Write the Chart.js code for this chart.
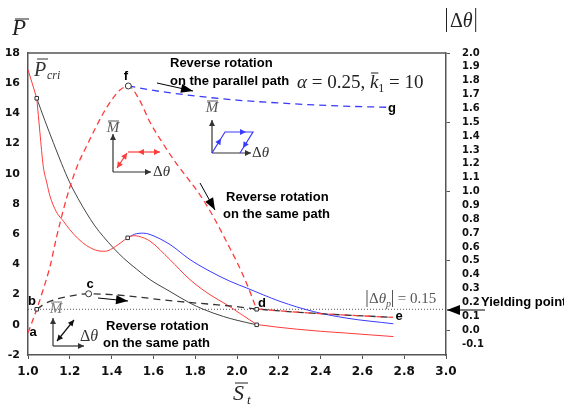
<!DOCTYPE html>
<html>
<head>
<meta charset="utf-8">
<script src="https://cdn.jsdelivr.net/npm/chart.js@4.4.0/dist/chart.umd.min.js"></script>
<style>
  html, body { margin: 0; padding: 0; background: #fff; }
  canvas { display: block; }
</style>
</head>
<body>
<canvas id="chart" width="564" height="409"></canvas>
<script>
// tick values
const bottomTicks = [1.0, 1.2, 1.4, 1.6, 1.8, 2.0, 2.2, 2.4, 2.6, 2.8, 3.0];
const leftTicks = [-2, 0, 2, 4, 6, 8, 10, 12, 14, 16, 18];
const rightTicks = [-0.1, 0.0, 0.1, 0.2, 0.3, 0.4, 0.5, 0.6, 0.7, 0.8, 0.9, 1.0,
  1.1, 1.2, 1.3, 1.4, 1.5, 1.6, 1.7, 1.8, 1.9, 2.0];

// solid curves, P (left axis)
const blackSolidS = [1.042, 1.08, 1.121, 1.16, 1.2, 1.24, 1.28, 1.32, 1.36, 1.408, 1.456, 1.52, 1.584, 1.679, 1.775, 1.837, 1.935, 2.0, 2.094];
const blackSolidP = [15.0, 13.55, 12.07, 10.7, 9.41, 8.35, 7.4, 6.55, 5.85, 5.1, 4.43, 3.68, 2.99, 2.21, 1.44, 1.04, 0.55, 0.3, 0.0];

const redStartS = [1.0, 1.042];
const redStartP = [16.9, 15.0];
const redSolidS = [1.042, 1.057, 1.073, 1.09, 1.105, 1.135, 1.17, 1.2, 1.24, 1.28, 1.33, 1.37, 1.42, 1.45, 1.477, 1.505, 1.53, 1.584, 1.679, 1.775, 1.871, 1.951, 2.02, 2.094];
const redSolidP = [15.0, 12.74, 10.5, 9.4, 8.53, 7.5, 6.85, 6.3, 5.7, 5.25, 4.92, 4.87, 5.2, 5.5, 5.76, 5.9, 5.86, 5.54, 4.32, 2.99, 1.99, 1.33, 0.7, 0.02];
const redTailS = [2.094, 2.19, 2.286, 2.4, 2.525, 2.64, 2.748];
const redTailP = [0.02, -0.15, -0.29, -0.43, -0.55, -0.67, -0.78];

const blueSolidS = [1.477, 1.51, 1.552, 1.584, 1.679, 1.775, 1.871, 1.967, 2.046, 2.206, 2.365, 2.525, 2.748];
const blueSolidP = [5.76, 6.0, 6.07, 5.98, 5.32, 4.32, 3.54, 2.88, 2.44, 1.55, 0.88, 0.44, 0.07];

// dashed curves, |dtheta| (right axis)
const redDashedS = [1.0, 1.02, 1.042, 1.07, 1.105, 1.135, 1.169, 1.2, 1.24, 1.281, 1.32, 1.36, 1.4, 1.44, 1.48, 1.53, 1.584, 1.64, 1.711, 1.767, 1.823, 1.887, 1.958, 1.999, 2.046, 2.094];
const redDashedR = [-0.02, 0.06, 0.15, 0.28, 0.457, 0.66, 0.866, 1.03, 1.2, 1.33, 1.45, 1.565, 1.66, 1.733, 1.762, 1.67, 1.5, 1.36, 1.2, 1.09, 0.975, 0.818, 0.614, 0.493, 0.337, 0.15];
const redDashedTailS = [2.094, 2.3, 2.5, 2.746];
const redDashedTailR = [0.152, 0.128, 0.11, 0.092];

const blackDashedS = [1.042, 1.08, 1.121, 1.2, 1.29, 1.4, 1.52, 1.62, 1.73, 1.86, 1.98, 2.094, 2.3, 2.5, 2.746];
const blackDashedR = [0.15, 0.19, 0.217, 0.245, 0.262, 0.256, 0.24, 0.222, 0.205, 0.188, 0.172, 0.152, 0.128, 0.11, 0.092];

const blueDashedS = [1.48, 1.6, 1.8, 2.0, 2.25, 2.5, 2.72];
const blueDashedR = [1.762, 1.73, 1.69, 1.66, 1.635, 1.617, 1.608];

const yieldS = [1.0, 3.0];
const yieldR = [0.15, 0.15];

// markers
const squareS = [1.042, 1.477, 2.094];
const squareP = [15.0, 5.76, 0.0];
const squareRS = [1.042, 2.094];
const squareR = [0.15, 0.15];
const circleS = [1.29, 1.48];
const circleR = [0.262, 1.762];

const RED = '#ff3a3a';
const BLUE = '#3a3aff';
const DARK = '#444';
const serif = '"Liberation Serif", "Times New Roman", serif';
const sans = '"Liberation Sans", Arial, sans-serif';
const tickFont = '"DejaVu Sans", Verdana, sans-serif';

const pts = (xs, ys) => xs.map((x, i) => ({ x, y: ys[i] }));

function curve(xs, ys, axis, color, width, dash) {
  return {
    data: pts(xs, ys),
    yAxisID: axis,
    borderColor: color,
    borderWidth: width,
    borderDash: dash || [],
    pointRadius: 0,
    fill: false,
    cubicInterpolationMode: 'monotone',
  };
}

function markers(xs, ys, axis, style) {
  return {
    data: pts(xs, ys),
    yAxisID: axis,
    showLine: false,
    pointStyle: style,
    pointRadius: style === 'circle' ? 3 : 2.5,
    pointBackgroundColor: '#fff',
    pointBorderColor: '#333',
    pointBorderWidth: 1,
  };
}

function head(ctx, x, y, ang, len, half) {
  ctx.save();
  ctx.translate(x, y);
  ctx.rotate(ang);
  ctx.beginPath();
  ctx.moveTo(0, 0);
  ctx.lineTo(-len, -half);
  ctx.lineTo(-len, half);
  ctx.closePath();
  ctx.fill();
  ctx.restore();
}

function arrow(ctx, x1, y1, x2, y2, color, len, half, both) {
  ctx.strokeStyle = color;
  ctx.fillStyle = color;
  ctx.beginPath();
  ctx.moveTo(x1, y1);
  ctx.lineTo(x2, y2);
  ctx.stroke();
  const a = Math.atan2(y2 - y1, x2 - x1);
  head(ctx, x2, y2, a, len, half);
  if (both) head(ctx, x1, y1, a + Math.PI, len, half);
}

function hbar(ctx, x1, x2, y, color) {
  ctx.strokeStyle = color;
  ctx.lineWidth = 1;
  ctx.beginPath();
  ctx.moveTo(x1, y);
  ctx.lineTo(x2, y);
  ctx.stroke();
}

function vbar(ctx, x, y1, y2, color) {
  ctx.strokeStyle = color;
  ctx.lineWidth = 1;
  ctx.beginPath();
  ctx.moveTo(x, y1);
  ctx.lineTo(x, y2);
  ctx.stroke();
}

// draws pieces of text one after another, returns end x
function runs(ctx, x, y, pieces) {
  for (const [t, font, dy] of pieces) {
    ctx.font = font;
    ctx.fillText(t, x, y + (dy || 0));
    x += ctx.measureText(t).width;
  }
  return x;
}

function mBar(ctx, cx, cy, color) {
  ctx.fillStyle = color;
  ctx.font = 'italic 15px ' + serif;
  ctx.textAlign = 'center';
  ctx.textBaseline = 'middle';
  ctx.fillText('M', cx, cy);
  hbar(ctx, cx - 5, cx + 6, cy - 7, color);
  ctx.textAlign = 'left';
  ctx.textBaseline = 'alphabetic';
}

function dTheta(ctx, x, y, size, color) {
  ctx.fillStyle = color;
  ctx.textBaseline = 'middle';
  const end = runs(ctx, x, y, [['Δ', size + 'px ' + serif], ['θ', 'italic ' + size + 'px ' + serif]]);
  ctx.textBaseline = 'alphabetic';
  return end;
}

function insetAxes(ctx, ox, oy, top, right) {
  ctx.lineWidth = 1.2;
  arrow(ctx, ox, oy, ox, top, '#333', 6, 3);
  arrow(ctx, ox, oy, right, oy, '#333', 6, 3);
}

const annotations = {
  id: 'annotations',
  afterDraw(chart) {
    const ctx = chart.ctx;
    const a = chart.chartArea;
    ctx.save();

    // top frame line
    ctx.strokeStyle = '#555';
    ctx.lineWidth = 1.5;
    ctx.beginPath();
    ctx.moveTo(a.left, a.top);
    ctx.lineTo(a.right, a.top);
    ctx.stroke();

    // axis titles
    ctx.fillStyle = '#222';
    ctx.textBaseline = 'alphabetic';
    ctx.textAlign = 'left';
    ctx.font = 'italic 23px ' + serif;
    ctx.fillText('P', 12, 35);
    hbar(ctx, 15, 29, 19, '#222');

    ctx.fillStyle = '#222';
    ctx.font = 'italic 22px ' + serif;
    ctx.fillText('S', 233, 400);
    hbar(ctx, 235, 248, 383, '#222');
    ctx.font = 'italic 13px ' + serif;
    ctx.fillText('t', 247, 404);

    let e = runs(ctx, 450, 27, [['Δ', '20px ' + serif], ['θ', 'italic 20px ' + serif]]);
    vbar(ctx, 446.5, 8, 32, '#222');
    vbar(ctx, e + 3, 8, 32, '#222');

    // P_cri label
    ctx.fillStyle = '#333';
    ctx.font = 'italic 20px ' + serif;
    ctx.fillText('P', 34, 76);
    hbar(ctx, 37, 48, 59, '#333');
    ctx.font = 'italic 12px ' + serif;
    ctx.fillText('cri', 47, 79);

    // alpha, k1
    ctx.fillStyle = '#222';
    let x = runs(ctx, 297, 88, [['α', 'italic 19px ' + serif], [' = 0.25, ', '19px ' + serif]]);
    ctx.font = 'italic 19px ' + serif;
    const kx = x;
    x = runs(ctx, x, 88, [['k', 'italic 19px ' + serif]]);
    hbar(ctx, kx + 1, x, 73, '#222');
    ctx.fillStyle = '#222';
    runs(ctx, x, 88, [['1', '12px ' + serif, 4], [' = 10', '19px ' + serif]]);

    // |dtheta_p| = 0.15
    const g = '#555';
    ctx.fillStyle = g;
    vbar(ctx, 367, 290, 307, g);
    ctx.fillStyle = g;
    x = runs(ctx, 369, 303, [['Δ', '15px ' + serif], ['θ', 'italic 15px ' + serif], ['p', 'italic 10px ' + serif, 4]]);
    vbar(ctx, x + 1.5, 290, 307, g);
    ctx.fillStyle = g;
    runs(ctx, x + 3, 303, [[' = 0.15', '15px ' + serif]]);

    // bold labels
    ctx.fillStyle = '#000';
    ctx.font = 'bold 13px ' + sans;
    ctx.textBaseline = 'middle';
    ctx.fillText('Reverse rotation', 170, 63);
    ctx.fillText('on the parallel path', 170, 81);
    ctx.fillText('Reverse rotation', 226, 197);
    ctx.fillText('on the same path', 223, 214);
    ctx.fillText('Reverse rotation', 106, 326);
    ctx.fillText('on the same path', 103, 343);
    ctx.fillText('Yielding point', 481, 302);
    ctx.textAlign = 'center';
    ctx.fillText('f', 126, 76);
    ctx.fillText('g', 392, 108);
    ctx.fillText('a', 33, 332);
    ctx.fillText('b', 32, 301);
    ctx.fillText('c', 90, 284);
    ctx.fillText('d', 262, 303);
    ctx.fillText('e', 399, 316);
    ctx.textAlign = 'left';
    ctx.textBaseline = 'alphabetic';

    // black arrows
    ctx.lineWidth = 1;
    arrow(ctx, 157, 83, 193, 91, '#000', 12, 4.5);
    arrow(ctx, 200, 183, 215, 210, '#000', 12, 4.5);
    arrow(ctx, 98, 298, 128, 301, '#000', 12, 4.5);
    ctx.lineWidth = 1.2;
    arrow(ctx, 485, 310, 447, 310, '#000', 13, 5);

    // inset 1 (red)
    insetAxes(ctx, 113, 172, 134, 151);
    mBar(ctx, 113, 128, '#555');
    dTheta(ctx, 153, 172, 15, '#333');
    ctx.lineWidth = 1.2;
    arrow(ctx, 117, 168, 127, 153, RED, 6, 3, true);
    arrow(ctx, 128, 152, 160, 152, RED, 6, 3);
    ctx.fillStyle = RED;
    head(ctx, 138, 152, Math.PI, 6, 3);

    // inset 2 (blue)
    insetAxes(ctx, 212, 153, 120, 251);
    mBar(ctx, 212, 108, '#555');
    dTheta(ctx, 252, 153, 15, '#333');
    ctx.strokeStyle = BLUE;
    ctx.fillStyle = BLUE;
    ctx.lineWidth = 1.2;
    ctx.beginPath();
    ctx.moveTo(212, 153);
    ctx.lineTo(225, 132);
    ctx.lineTo(253, 132);
    ctx.lineTo(240, 153);
    ctx.stroke();
    head(ctx, 221, 138.5, Math.atan2(-21, 13), 6, 3);
    head(ctx, 246, 132, 0, 6, 3);
    head(ctx, 243, 148, Math.atan2(21, -13), 6, 3);

    // inset 3 (black)
    insetAxes(ctx, 53, 346, 318, 84);
    mBar(ctx, 56, 309, '#777');
    dTheta(ctx, 80, 337, 16, '#333');
    ctx.lineWidth = 1.2;
    arrow(ctx, 57, 341, 74, 320, '#111', 6, 3, true);

    ctx.restore();
  }
};

const isHalf = (v) => Math.abs(v * 2 - Math.round(v * 2)) < 1e-6;

new Chart(document.getElementById('chart'), {
  type: 'line',
  data: {
    datasets: [
      markers(squareS, squareP, 'y', 'rect'),
      markers(squareRS, squareR, 'y1', 'rect'),
      markers(circleS, circleR, 'y1', 'circle'),
      curve(redDashedS, redDashedR, 'y1', RED, 1.3, [6, 4]),
      curve(redDashedTailS, redDashedTailR, 'y1', RED, 1.3, [6, 6]),
      curve(blackDashedS, blackDashedR, 'y1', '#333', 1.3, [7, 5]),
      curve(blueDashedS, blueDashedR, 'y1', BLUE, 1.3, [7, 5]),
      curve(redStartS, redStartP, 'y', RED, 1),
      curve(redSolidS, redSolidP, 'y', RED, 1),
      curve(redTailS, redTailP, 'y', RED, 1),
      curve(blueSolidS, blueSolidP, 'y', BLUE, 1),
      curve(blackSolidS, blackSolidP, 'y', DARK, 1),
      curve(yieldS, yieldR, 'y1', '#555', 1, [1, 2]),
    ],
  },
  options: {
    responsive: false,
    animation: false,
    devicePixelRatio: 1,
    events: [],
    layout: { padding: { top: 53, left: 0, right: 0, bottom: 0 } },
    plugins: {
      legend: { display: false },
      tooltip: { enabled: false },
    },
    scales: {
      x: {
        type: 'linear',
        min: 1.0,
        max: 3.0,
        afterBuildTicks: (s) => { s.ticks = bottomTicks.map((v) => ({ value: v })); },
        afterFit: (s) => { s.height = 54; },
        ticks: {
          callback: (v) => v.toFixed(1),
          font: { family: tickFont, size: 12, weight: 'bold' },
          color: '#111',
          padding: 6,
          maxRotation: 0,
          autoSkip: false,
        },
        grid: { drawOnChartArea: false, tickLength: 4, tickColor: '#555' },
        border: { color: '#555', width: 1.5 },
      },
      y: {
        position: 'left',
        min: -2,
        max: 18,
        afterBuildTicks: (s) => { s.ticks = leftTicks.map((v) => ({ value: v })); },
        afterFit: (s) => { s.width = 28; },
        ticks: {
          font: { family: tickFont, size: 11, weight: 'bold' },
          color: '#111',
          padding: 8,
          autoSkip: false,
        },
        grid: { drawOnChartArea: false, drawTicks: false },
        border: { color: '#555', width: 1.5 },
      },
      y1: {
        position: 'right',
        min: -0.18,
        max: 2.0,
        afterBuildTicks: (s) => { s.ticks = rightTicks.map((v) => ({ value: v })); },
        afterFit: (s) => { s.width = 118; },
        ticks: {
          callback: (v) => v.toFixed(1),
          font: { family: tickFont, size: 10, weight: 'bold' },
          color: '#111',
          padding: 12,
          autoSkip: false,
        },
        grid: {
          drawOnChartArea: false,
          tickLength: 4,
          tickColor: (c) => (c.tick && isHalf(c.tick.value) ? '#555' : 'rgba(0,0,0,0)'),
        },
        border: { color: '#555', width: 1.5 },
      },
    },
  },
  plugins: [annotations],
});
</script>
</body>
</html>
